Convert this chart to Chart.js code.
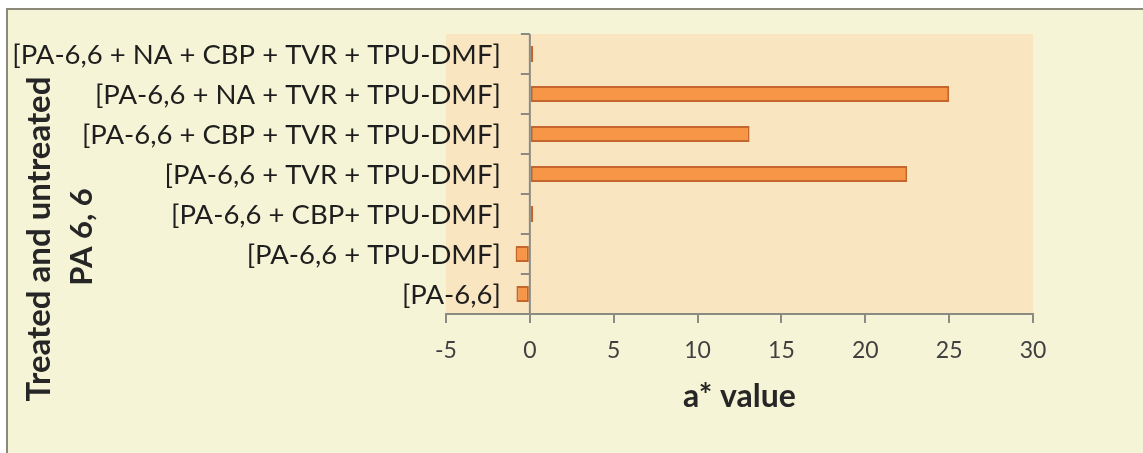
<!DOCTYPE html>
<html><head><meta charset="utf-8">
<script src="https://cdn.jsdelivr.net/npm/chart.js@4/dist/chart.umd.min.js"></script>
<style>
html,body{margin:0;padding:0;width:1143px;height:453px;overflow:hidden;background:#fff;}
#frame{position:absolute;left:6px;top:8px;width:1160px;height:470px;border-left:2px solid #8c887a;border-top:2px solid #8c887a;background:#F6F4D6;}
#wrap{position:absolute;left:0;top:0;width:1143px;height:453px;}
</style></head><body>
<div id="frame"></div>
<div id="wrap"><canvas id="c" width="1143" height="453"></canvas></div>
<script>
const categories = ['[PA-6,6 + NA + CBP + TVR + TPU-DMF]', '[PA-6,6 + NA + TVR + TPU-DMF]', '[PA-6,6 + CBP + TVR + TPU-DMF]', '[PA-6,6 + TVR + TPU-DMF]', '[PA-6,6 + CBP+ TPU-DMF]', '[PA-6,6 + TPU-DMF]', '[PA-6,6]'];
const aValues = [0.2, 25.0, 13.1, 22.5, 0.2, -0.85, -0.8];
const xMin = -5, xMax = 30, xStep = 5;
const xTitle = 'a* value';
const yTitle = ['Treated and untreated', 'PA 6, 6'];

const FONT = 'Lato';
const axisGray = '#8B8B84';

const zeroAxis = {
  id: 'zeroAxis',
  beforeDraw(chart) {
    const {ctx, chartArea: a} = chart;
    ctx.save();
    ctx.fillStyle = '#FAE5C1';
    ctx.fillRect(a.left, a.top, a.right - a.left, a.bottom - a.top);
    ctx.restore();
  },
  afterDatasetsDraw(chart) {
    const {ctx, chartArea: a, scales: {x, y}} = chart;
    const x0 = x.getPixelForValue(0);
    ctx.save();
    ctx.strokeStyle = axisGray;
    ctx.lineWidth = 2;
    ctx.beginPath();
    ctx.moveTo(x0, a.top);
    ctx.lineTo(x0, a.bottom);
    for (let i = 0; i <= categories.length; i++) {
      const py = y.getPixelForValue(i - 0.5);
      ctx.moveTo(x0 - 9, py);
      ctx.lineTo(x0, py);
    }
    ctx.stroke();
    ctx.fillStyle = '#1e1e1e';
    ctx.font = '27.5px ' + FONT;
    ctx.textAlign = 'right';
    ctx.textBaseline = 'middle';
    categories.forEach((c, i) => ctx.fillText(c, x0 - 29, y.getPixelForValue(i) + 1));
    ctx.fillStyle = '#262626';
    ctx.textAlign = 'center';
    ctx.font = 'bold 33px ' + FONT;
    ctx.save(); ctx.translate(39, 239); ctx.rotate(-Math.PI / 2); ctx.fillText(yTitle[0], 0, 0); ctx.restore();
    ctx.font = 'bold 31px ' + FONT;
    ctx.save(); ctx.translate(82, 237); ctx.rotate(-Math.PI / 2); ctx.fillText(yTitle[1], 0, 0); ctx.restore();
    ctx.restore();
  }
};

new Chart(document.getElementById('c'), {
  type: 'bar',
  data: {
    labels: categories,
    datasets: [{
      data: aValues,
      backgroundColor: '#F79646',
      borderColor: '#C4652B',
      borderWidth: 2,
      borderSkipped: false,
      categoryPercentage: 0.8,
      barPercentage: 0.5
    }]
  },
  options: {
    indexAxis: 'y',
    responsive: false,
    animation: false,
    devicePixelRatio: 1,
    layout: {padding: {left: 446, right: 110, top: 34, bottom: 0}},
    plugins: {legend: {display: false}, tooltip: {enabled: false}},
    scales: {
      x: {
        min: xMin, max: xMax,
        afterFit(s) { s.height = 139; },
        ticks: {stepSize: xStep, color: '#404040', font: {family: FONT, size: 23}, padding: 14},
        grid: {display: true, drawOnChartArea: false, drawTicks: true, tickLength: 9, color: axisGray, lineWidth: 2},
        border: {display: true, color: axisGray, width: 2},
        title: {display: true, text: xTitle, color: '#262626', font: {family: FONT, size: 32, weight: 'bold'}, padding: {top: 0, bottom: 37}}
      },
      y: {
        afterFit(s) { s.width = 0; },
        ticks: {display: false},
        grid: {display: false},
        border: {display: false}
      }
    }
  },
  plugins: [zeroAxis]
});
</script>
</body></html>
